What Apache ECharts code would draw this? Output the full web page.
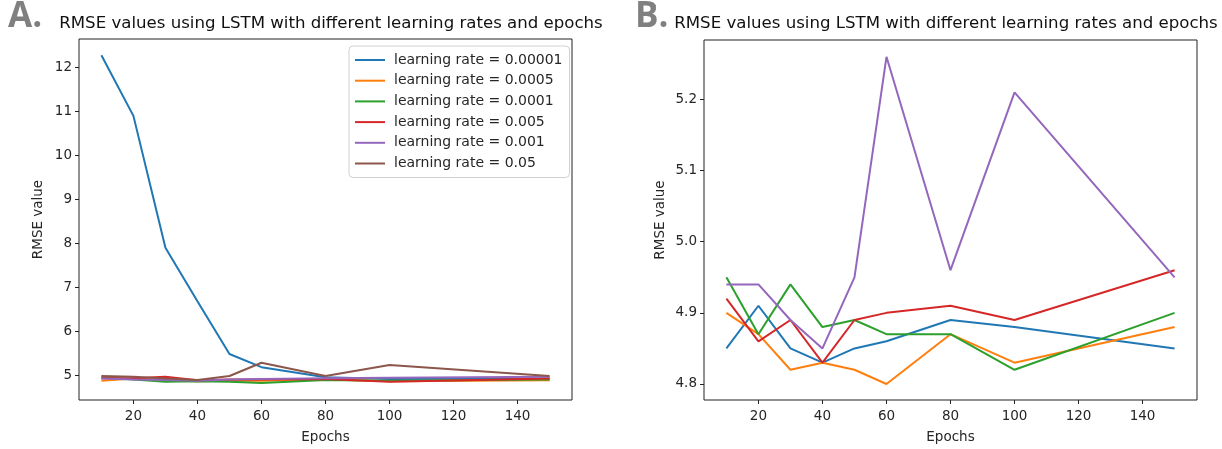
<!DOCTYPE html>
<html>
<head>
<meta charset="utf-8">
<script src="https://cdn.jsdelivr.net/npm/echarts@6/dist/echarts.min.js"></script>
<style>
  html, body { margin: 0; padding: 0; background: #fff; }
  #chart { width: 1222px; height: 449px; }
</style>
</head>
<body>
<div id="chart"></div>
<script>
// Epoch counts shared by both panels
const epochs = [10, 20, 30, 40, 50, 60, 80, 100, 150];

// Learning-rate labels (legend order)
const rateNames = [
  'learning rate = 0.00001',
  'learning rate = 0.0005',
  'learning rate = 0.0001',
  'learning rate = 0.005',
  'learning rate = 0.001',
  'learning rate = 0.05'
];

// Panel A: RMSE per epoch count
const rmseA_00001 = [12.28, 10.9, 7.9, 6.68, 5.48, 5.18, 4.95, 4.91, 4.92];
const rmseA_0005  = [4.87, 4.92, 4.88, 4.86, 4.87, 4.87, 4.90, 4.86, 4.88];
const rmseA_0001  = [4.95, 4.90, 4.85, 4.86, 4.85, 4.82, 4.89, 4.87, 4.90];
const rmseA_005   = [4.93, 4.93, 4.96, 4.88, 4.90, 4.90, 4.91, 4.85, 4.92];
const rmseA_001   = [4.92, 4.90, 4.89, 4.87, 4.90, 4.91, 4.93, 4.94, 4.96];
const rmseA_05    = [4.98, 4.96, 4.92, 4.89, 4.98, 5.28, 4.98, 5.23, 4.98];

// Panel B: RMSE per epoch count
const rmseB_00001 = [4.85, 4.91, 4.85, 4.83, 4.85, 4.86, 4.89, 4.88, 4.85];
const rmseB_0005  = [4.90, 4.87, 4.82, 4.83, 4.82, 4.80, 4.87, 4.83, 4.88];
const rmseB_0001  = [4.95, 4.87, 4.94, 4.88, 4.89, 4.87, 4.87, 4.82, 4.90];
const rmseB_005   = [4.92, 4.86, 4.89, 4.83, 4.89, 4.90, 4.91, 4.89, 4.96];
const rmseB_001   = [4.94, 4.94, 4.89, 4.85, 4.95, 5.26, 4.96, 5.21, 4.95];

// Tick labels
const xTicks = [20, 40, 60, 80, 100, 120, 140];
const yTicksA = [5, 6, 7, 8, 9, 10, 11, 12];
const yTicksB = [4.8, 4.9, 5.0, 5.1, 5.2];

const colors = ['#1f77b4', '#ff7f0e', '#2ca02c', '#d62728', '#9467bd', '#8c564b'];
const FONT = 'DejaVu Sans';
const TXT = '#262626';
const TITLE = 'RMSE values using LSTM with different learning rates and epochs';

const seriesA = [rmseA_00001, rmseA_0005, rmseA_0001, rmseA_005, rmseA_001, rmseA_05];
const seriesB = [rmseB_00001, rmseB_0005, rmseB_0001, rmseB_005, rmseB_001];

function pairs(vals) { return epochs.map((e, i) => [e, vals[i]]); }

function lineSeries(vals, idx, axisIdx) {
  return {
    type: 'line',
    name: rateNames[idx],
    xAxisIndex: axisIdx,
    yAxisIndex: axisIdx,
    data: pairs(vals),
    showSymbol: false,
    symbol: 'none',
    animation: false,
    lineStyle: { width: 2, color: colors[idx] },
    itemStyle: { color: colors[idx] },
    z: 2 + idx
  };
}

const grids = [
  { left: 79, top: 39, width: 493, height: 367 },
  { left: 704, top: 40, width: 493, height: 367 }
];

function xAxis(gi) {
  return {
    type: 'value', gridIndex: gi, min: 3, max: 157,
    name: 'Epochs', nameLocation: 'middle', nameGap: 30,
    nameTextStyle: { fontFamily: FONT, fontSize: 13.5, color: TXT },
    axisLine: { show: false },
    splitLine: { show: false },
    axisTick: { show: true, length: 4, customValues: xTicks, lineStyle: { color: '#222' } },
    axisLabel: { customValues: xTicks, fontFamily: FONT, fontSize: 13.5, color: TXT, margin: 9 }
  };
}

function yAxis(gi, min, max, ticks, fmt, gap) {
  return {
    type: 'value', gridIndex: gi, min: min, max: max,
    name: 'RMSE value', nameLocation: 'middle', nameGap: gap, nameRotate: 90,
    nameTextStyle: { fontFamily: FONT, fontSize: 13.5, color: TXT },
    axisLine: { show: false },
    splitLine: { show: false },
    axisTick: { show: true, length: 4, customValues: ticks, lineStyle: { color: '#222' } },
    axisLabel: { customValues: ticks, fontFamily: FONT, fontSize: 13.5, color: TXT, margin: 7, formatter: fmt }
  };
}

const chart = echarts.init(document.getElementById('chart'), null, { renderer: 'canvas' });

chart.setOption({
  backgroundColor: '#ffffff',
  animation: false,
  grid: grids.map(g => Object.assign({ show: true, borderColor: '#222', borderWidth: 1, backgroundColor: 'transparent' }, g)),
  xAxis: [xAxis(0), xAxis(1)],
  yAxis: [
    yAxis(0, 4.433, 12.65, yTicksA, v => String(Math.round(v)), 34),
    yAxis(1, 4.7775, 5.2836, yTicksB, v => v.toFixed(1), 37)
  ],
  legend: {
    data: rateNames,
    orient: 'vertical',
    left: 349, top: 46,
    icon: 'rect',
    itemWidth: 30, itemHeight: 2,
    itemGap: 6.7,
    padding: [7, 7, 7, 6],
    backgroundColor: 'rgba(255,255,255,0.85)',
    borderColor: '#d0d0d0', borderWidth: 1, borderRadius: 4,
    textStyle: { fontFamily: FONT, fontSize: 14, color: TXT, padding: [0, 0, 0, 4] },
    selectedMode: false
  },
  graphic: [
    { type: 'text', left: 8, top: 0, style: { text: 'A.', font: 'bold 35px "Open Sans"', fill: '#808080' } },
    { type: 'text', left: 635, top: 0, style: { text: 'B.', font: 'bold 35px "Open Sans"', fill: '#808080' } },
    { type: 'text', x: 331, y: 24, style: { text: TITLE, font: '16.6px "DejaVu Sans"', fill: '#111', align: 'center', verticalAlign: 'middle' } },
    { type: 'text', x: 946, y: 24, style: { text: TITLE, font: '16.6px "DejaVu Sans"', fill: '#111', align: 'center', verticalAlign: 'middle' } }
  ],
  series: seriesA.map((v, i) => lineSeries(v, i, 0)).concat(seriesB.map((v, i) => lineSeries(v, i, 1)))
});
</script>
</body>
</html>
